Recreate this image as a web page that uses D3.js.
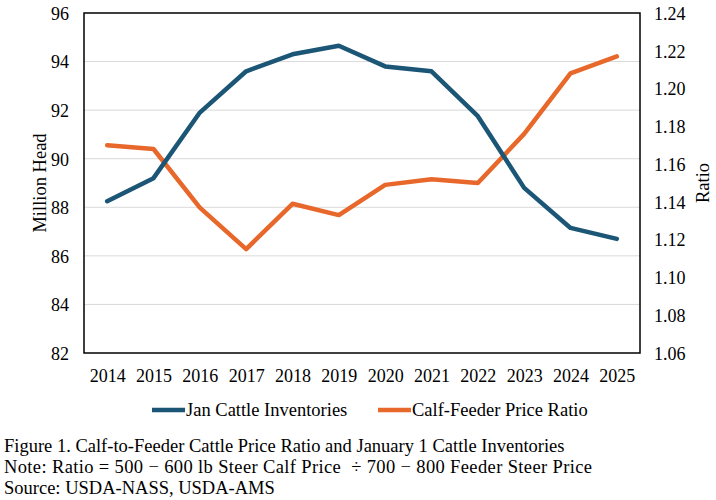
<!DOCTYPE html>
<html>
<head>
<meta charset="utf-8">
<script src="https://cdn.jsdelivr.net/npm/d3@7"></script>
<style>
  body { margin: 0; background: #fff; }
  text { font-family: "Liberation Serif", "Times New Roman", serif; fill: #000; }
</style>
</head>
<body>
<svg width="716" height="500"></svg>
<script>
// Years and series
const years = ["2014", "2015", "2016", "2017", "2018", "2019", "2020", "2021", "2022", "2023", "2024", "2025"];
const inventories = [88.25, 89.2, 91.9, 93.6, 94.3, 94.65, 93.8, 93.6, 91.75, 88.8, 87.15, 86.7];
const priceRatio = [1.170, 1.168, 1.137, 1.115, 1.139, 1.133, 1.149, 1.152, 1.150, 1.176, 1.208, 1.217];
const leftTicks = [82, 84, 86, 88, 90, 92, 94, 96];
const rightTicks = [1.06, 1.08, 1.10, 1.12, 1.14, 1.16, 1.18, 1.20, 1.22, 1.24];
const captionLines = [
  "Figure 1. Calf-to-Feeder Cattle Price Ratio and January 1 Cattle Inventories",
  "Note: Ratio = 500 \u2212 600 lb Steer Calf Price  \u00f7 700 \u2212 800 Feeder Steer Price",
  "Source: USDA-NASS, USDA-AMS"
];

const blue = "#1b5676";
const orange = "#e8672a";
const serif = '"Liberation Serif", "Times New Roman", serif';

const svg = d3.select("svg");
const margin = { left: 84, right: 76, top: 13, bottom: 147 };
const width = 716 - margin.left - margin.right;
const height = 500 - margin.top - margin.bottom;

const g = svg.append("g").attr("transform", `translate(${margin.left},${margin.top})`);

const x = d3.scalePoint().domain(years).range([0, width]).padding(0.5);
const yL = d3.scaleLinear().domain([82, 96]).range([height, 0]);
const yR = d3.scaleLinear().domain([1.06, 1.24]).range([height, 0]);

// gridlines
g.selectAll(".grid")
  .data(leftTicks.slice(1, -1))
  .enter().append("line")
  .attr("x1", 0).attr("x2", width)
  .attr("y1", d => yL(d)).attr("y2", d => yL(d))
  .attr("stroke", "#d9d9d9").attr("stroke-width", 1);

// axes
function styleAxis(ax) {
  ax.attr("font-family", serif);
  ax.select(".domain").remove();
  ax.selectAll("text").style("font-size", "18px").style("font-family", serif).attr("fill", "#000");
}

const axL = g.append("g")
  .call(d3.axisLeft(yL).tickValues(leftTicks).tickSize(0).tickPadding(15));
styleAxis(axL);
axL.selectAll("text").attr("dy", "0.35em");

const axR = g.append("g").attr("transform", `translate(${width},0)`)
  .call(d3.axisRight(yR).tickValues(rightTicks).tickSize(0).tickPadding(14).tickFormat(d3.format(".2f")));
styleAxis(axR);
axR.selectAll("text").attr("dy", "0.35em");

const axB = g.append("g").attr("transform", `translate(0,${height})`)
  .call(d3.axisBottom(x).tickSize(0).tickPadding(16));
styleAxis(axB);

// frame
g.append("rect")
  .attr("width", width).attr("height", height)
  .attr("fill", "none").attr("stroke", "#000").attr("stroke-width", 1.5);

// lines
const lineL = d3.line().x((d, i) => x(years[i])).y(d => yL(d));
const lineR = d3.line().x((d, i) => x(years[i])).y(d => yR(d));

g.append("path").datum(priceRatio)
  .attr("d", lineR).attr("fill", "none")
  .attr("stroke", orange).attr("stroke-width", 4.5).attr("stroke-linejoin", "round").attr("stroke-linecap", "round");

g.append("path").datum(inventories)
  .attr("d", lineL).attr("fill", "none")
  .attr("stroke", blue).attr("stroke-width", 4.5).attr("stroke-linejoin", "round").attr("stroke-linecap", "round");

// axis titles
svg.append("text")
  .attr("transform", "translate(46,183) rotate(-90)")
  .attr("text-anchor", "middle").style("font-size", "18.5px")
  .text("Million Head");
svg.append("text")
  .attr("transform", "translate(709,183) rotate(-90)")
  .attr("text-anchor", "middle").style("font-size", "18.5px")
  .text("Ratio");

// legend
const legend = [
  { name: "Jan Cattle Inventories", color: blue, x: 152 },
  { name: "Calf-Feeder Price Ratio", color: orange, x: 378 }
];
const lg = svg.selectAll(".legend").data(legend).enter().append("g")
  .attr("transform", d => `translate(${d.x},410)`);
lg.append("line")
  .attr("x1", 0).attr("x2", 33).attr("y1", 0).attr("y2", 0)
  .attr("stroke", d => d.color).attr("stroke-width", 4.5);
lg.append("text")
  .attr("x", 34).attr("dy", "0.35em").style("font-size", "18.5px")
  .text(d => d.name);

// caption
svg.selectAll(".caption").data(captionLines).enter().append("text")
  .attr("x", 4).attr("y", (d, i) => 452 + i * 21)
  .style("font-size", "18.5px")
  .style("white-space", "pre")
  .attr("textLength", (d, i) => i === 1 ? 588 : null)
  .attr("lengthAdjust", "spacing")
  .text(d => d);
</script>
</body>
</html>
